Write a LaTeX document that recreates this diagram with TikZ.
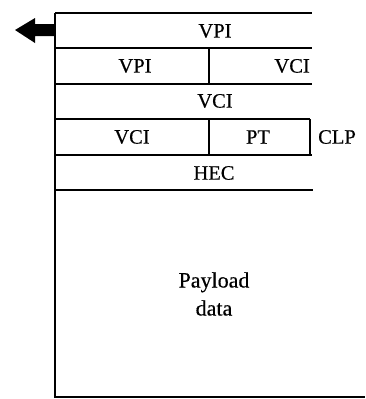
\documentclass[tikz,border=0pt]{standalone}
\usepackage{fontspec}
\setmainfont{Liberation Serif}[FakeBold=0.4]
\begin{document}
\begin{tikzpicture}[x=1pt,y=-1pt,
  cell/.style={inner sep=0pt, font=\fontsize{20.5}{22}\selectfont},
  big/.style={inner sep=0pt, align=center, font=\fontsize{22}{28}\selectfont},
  rule/.style={line width=1.3pt},
  edge/.style={line width=2.2pt}]
\useasboundingbox (0,0) rectangle (365,399);
% horizontal rules
\draw[rule] (55,13) -- (312,13);
\draw[rule] (55,48) -- (312,48);
\draw[rule] (55,84) -- (312,84);
\draw[rule] (55,119) -- (310,119);
\draw[rule] (55,155) -- (312,155);
\draw[rule] (55,190) -- (313,190);
% vertical dividers
\draw[rule] (209,48) -- (209,84);
\draw[rule] (209,119) -- (209,155);
\draw[edge] (310,119) -- (310,155);
% outer left and bottom
\draw[edge] (55,13) -- (55,397) -- (365,397);
% arrow
\fill (55,24) -- (35,24) -- (35,18) -- (15,30) -- (35,43) -- (35,36) -- (55,36) -- cycle;
% labels
\node[cell] (vpi1) at (215,31) {VPI};
\node[cell] (vpi2) at (135,66) {VPI};
\node[cell, anchor=east] (vci1) at (310,66) {VCI};
\node[cell] (vci2) at (215,101) {VCI};
\node[cell] (vci3) at (132,137) {VCI};
\node[cell] (pt) at (258,137) {PT};
\node[cell, anchor=west] (clp) at (318,137) {CLP};
\node[cell] (hec) at (214,173) {HEC};
\node[big] (payload) at (214,294) {Payload\\data};
\end{tikzpicture}
\end{document}
